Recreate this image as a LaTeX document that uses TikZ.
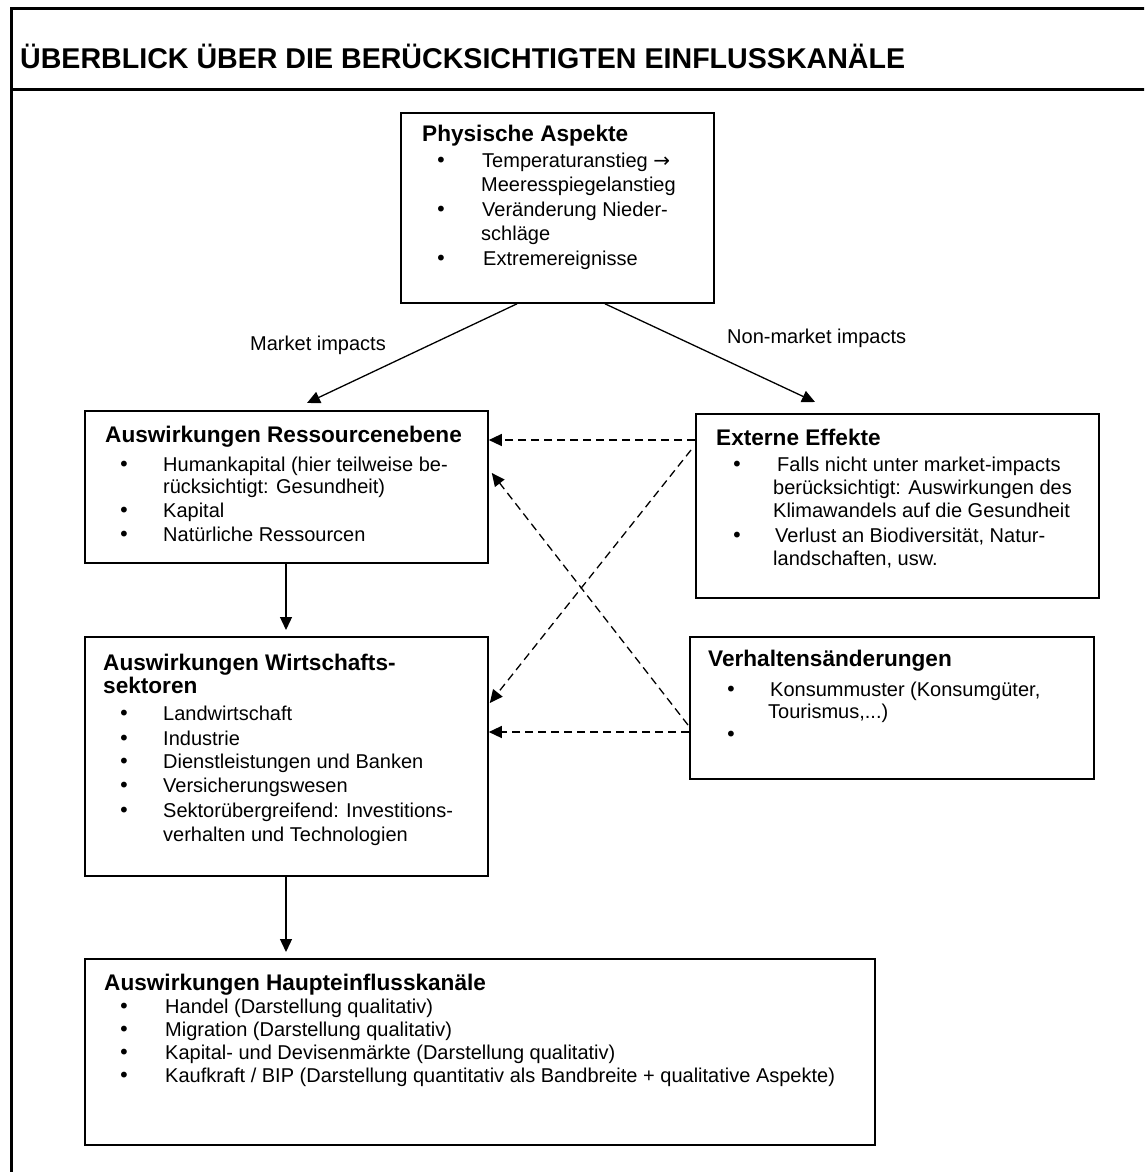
\documentclass[tikz,border=0pt]{standalone}
\usepackage{fontspec}
\setmainfont{Liberation Sans}
\newfontfamily\symfont{DejaVu Sans}
\usetikzlibrary{arrows.meta,calc}

\tikzset{
  panel/.style={draw, line width=1.8pt, anchor=north west, inner sep=0pt},
  body/.style={anchor=north west, inner sep=0pt, align=left,
    font=\fontsize{20}{24}\selectfont},
  label text/.style={anchor=base west, inner sep=0pt,
    font=\fontsize{20}{24}\selectfont},
  link/.style={line width=1.3pt, -{Triangle[length=13pt,width=12pt]}},
  dlink/.style={link, dash pattern=on 8pt off 5pt},
  frameline/.style={line width=3pt},
}
% heading line (with a fixed 18pt strut so the first baseline sits 18pt below the node top),
% bullet item, continuation line
\newcommand\hd[1]{{\bfseries\fontsize{22.6}{24}\selectfont\rule{0pt}{18pt}#1}}
\newcommand\itm[3]{\hspace*{#1pt}\makebox[#2pt][l]{\symfont •}#3}
\newcommand\cnt[2]{\hspace*{#1pt}#2}

\begin{document}
\begin{tikzpicture}[x=1pt,y=-1pt]
\useasboundingbox (0,0) rectangle (1144,1172);
\clip (0,0) rectangle (1144,1172);

% outer frame and title bar
\draw[frameline] (1160,8.5) -| (11.5,1190);
\draw[frameline] (11.5,89.5) -- (1160,89.5);
\node[anchor=base west, inner sep=0pt, font=\bfseries\fontsize{28.6}{30}\selectfont]
  (title) at (20,68) {ÜBERBLICK ÜBER DIE BERÜCKSICHTIGTEN EINFLUSSKANÄLE};

% boxes
\node[panel, minimum width=313, minimum height=190] (phys) at (400,112) {};
\node[panel, minimum width=403, minimum height=152] (res)  at (84,410) {};
\node[panel, minimum width=403, minimum height=184] (ext)  at (695,413) {};
\node[panel, minimum width=403, minimum height=239] (wir)  at (84,636) {};
\node[panel, minimum width=404, minimum height=142] (ver)  at (689,636) {};
\node[panel, minimum width=790, minimum height=186] (hpt)  at (84,958) {};

% box contents (node top = first baseline - 18)
\node[body] (physT) at (422,123) {%
  \hd{Physische Aspekte}\\[2pt]
  \itm{13}{47}{Temperaturanstieg {\symfont →}}\\
  \cnt{59}{Meeresspiegelanstieg}\\[1pt]
  \itm{13}{47}{Veränderung Nieder-}\\
  \cnt{59}{schläge}\\[1pt]
  \itm{13}{48}{Extremereignisse}};

\node[body] (resT) at (105,424) {%
  \hd{Auswirkungen Ressourcenebene}\\[5pt]
  \itm{13}{45}{Humankapital (hier teilweise be-}\\[-2pt]
  \cnt{58}{rücksichtigt: Gesundheit)}\\
  \itm{13}{45}{Kapital}\\
  \itm{13}{45}{Natürliche Ressourcen}};

\node[body] (extT) at (716,427) {%
  \hd{Externe Effekte}\\[2pt]
  \itm{15}{46}{Falls nicht unter market-impacts}\\[-1pt]
  \cnt{57}{berücksichtigt: Auswirkungen des}\\[-1pt]
  \cnt{57}{Klimawandels auf die Gesundheit}\\[1pt]
  \itm{15}{44}{Verlust an Biodiversität, Natur-}\\[-1pt]
  \cnt{57}{landschaften, usw.}};

\node[body] (wirT) at (103,652) {%
  \hd{Auswirkungen Wirtschafts-}\\[-1pt]
  \hd{sektoren}\\[3pt]
  \itm{15}{45}{Landwirtschaft}\\[1pt]
  \itm{15}{45}{Industrie}\\[-1pt]
  \itm{15}{45}{Dienstleistungen und Banken}\\
  \itm{15}{45}{Versicherungswesen}\\[1pt]
  \itm{15}{45}{Sektorübergreifend: Investitions-}\\
  \cnt{60}{verhalten und Technologien}};

\node[body] (verT) at (708,648) {%
  \hd{Verhaltensänderungen}\\[6pt]
  \itm{17}{45}{Konsummuster (Konsumgüter,}\\[-2pt]
  \cnt{60}{Tourismus,...)}\\[-1pt]
  \itm{17}{45}{}};

\node[body] (hptT) at (104,972) {%
  \hd{Auswirkungen Haupteinflusskanäle}\\[-1pt]
  \itm{14}{47}{Handel (Darstellung qualitativ)}\\[-1pt]
  \itm{14}{47}{Migration (Darstellung qualitativ)}\\[-1pt]
  \itm{14}{47}{Kapital- und Devisenmärkte (Darstellung qualitativ)}\\[-1pt]
  \itm{14}{47}{Kaufkraft / BIP (Darstellung quantitativ als Bandbreite + qualitative Aspekte)}};

% edge labels
\node[label text] (lblM) at (250,350) {Market impacts};
\node[label text] (lblN) at (727,343) {Non-market impacts};

% solid connectors
\draw[link] ($(phys.south west)+(117,0)$) -- ($(res.north west)+(223,-7)$);
\draw[link] ($(phys.south west)+(205,0)$) -- ($(ext.north west)+(120,-11)$);
\draw[link] ($(res.south west)+(202,0)$) -- ($(wir.north west)+(202,-6)$);
\draw[link] ($(wir.south west)+(202,0)$) -- ($(hpt.north west)+(202,-6)$);

% dashed connectors
\draw[dlink] ($(ext.north west)+(0,27)$) -- ($(res.north east)+(0,30)$);
\draw[dlink] ($(ext.north west)+(-4,37)$) -- ($(wir.north east)+(1,67)$);
\draw[dlink] ($(ver.north west)+(-1,89)$) -- ($(res.north east)+(3,63)$);
\draw[dlink] ($(ver.north west)+(0,96)$) -- ($(wir.north east)+(0,96)$);
\end{tikzpicture}
\end{document}
